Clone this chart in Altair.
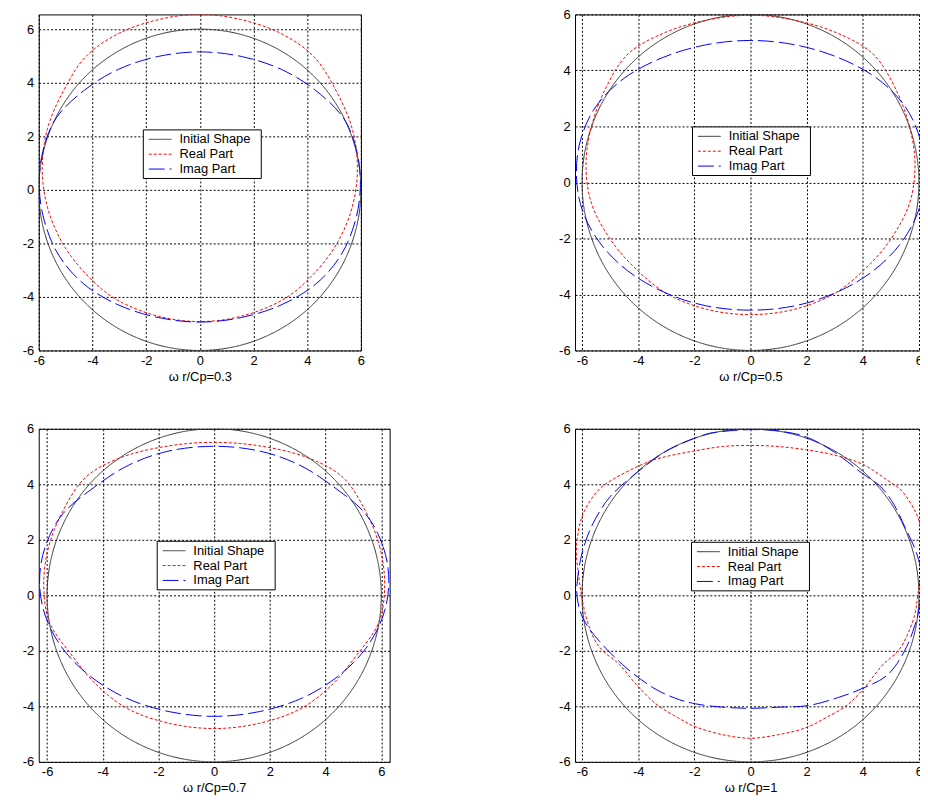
import altair as alt
import pandas as pd

SERIES = ["Initial Shape", "Real Part", "Imag Part"]
COLORS = ["#333333", "#ff0000", "#0000ff"]
DASHES = [[1, 0], [3, 2], [16, 5]]
TICKS = [-6, -4, -2, 0, 2, 4, 6]
TITLES = ["ω r/Cp=0.3", "ω r/Cp=0.5", "ω r/Cp=0.7", "ω r/Cp=1"]
FONT = "Liberation Sans"

init_x = [6.0, 5.91, 5.64, 5.2, 4.6, 3.86, 3.0, 2.05, 1.04, 0.0, -1.04, -2.05, -3.0, -3.86, -4.6, -5.2, -5.64, -5.91,
          -6.0, -5.91, -5.64, -5.2, -4.6, -3.86, -3.0, -2.05, -1.04, 0.0, 1.04, 2.05, 3.0, 3.86, 4.6, 5.2, 5.64, 5.91]
init_y = [0.0, 1.04, 2.05, 3.0, 3.86, 4.6, 5.2, 5.64, 5.91, 6.0, 5.91, 5.64, 5.2, 4.6, 3.86, 3.0, 2.05, 1.04,
          0.0, -1.04, -2.05, -3.0, -3.86, -4.6, -5.2, -5.64, -5.91, -6.0, -5.91, -5.64, -5.2, -4.6, -3.86, -3.0, -2.05, -1.04]

p1_real_x = [5.87, 5.67, 5.08, 4.25, 3.00, 1.52, 0.00, -1.52, -3.00, -4.25, -5.08, -5.67,
             -5.87, -5.67, -5.08, -4.15, -3.05, -1.55, 0.00, 1.55, 3.05, 4.15, 5.08, 5.67]
p1_real_y = [0.82, 2.30, 3.69, 4.97, 5.85, 6.36, 6.55, 6.36, 5.85, 4.97, 3.69, 2.30,
             0.82, -0.67, -2.05, -3.24, -4.13, -4.72, -4.92, -4.72, -4.13, -3.24, -2.05, -0.67]
p1_imag_x = [5.98, 5.85, 5.35, 4.30, 3.03, 1.55, 0.00, -1.55, -3.03, -4.30, -5.35, -5.85,
             -5.98, -5.78, -5.25, -4.32, -3.03, -1.55, 0.00, 1.55, 3.03, 4.32, 5.25, 5.78]
p1_imag_y = [0.10, 1.42, 2.68, 3.72, 4.50, 4.98, 5.15, 4.98, 4.50, 3.72, 2.68, 1.42,
             0.10, -1.20, -2.45, -3.52, -4.30, -4.77, -4.94, -4.77, -4.30, -3.52, -2.45, -1.20]

p2_real_x = [5.86, 5.66, 5.15, 4.35, 3.05, 1.55, 0.00, -1.55, -3.05, -4.35, -5.15, -5.66,
             -5.86, -5.66, -4.98, -4.05, -2.93, -1.52, 0.00, 1.52, 2.93, 4.05, 4.98, 5.66]
p2_real_y = [0.63, 2.01, 3.38, 4.60, 5.35, 5.80, 5.97, 5.80, 5.35, 4.60, 3.38, 2.01,
             0.63, -0.76, -2.05, -3.12, -4.00, -4.54, -4.72, -4.54, -4.00, -3.12, -2.05, -0.76]
p2_imag_x = [6.20, 6.05, 5.50, 4.50, 3.15, 1.61, 0.00, -1.61, -3.15, -4.50, -5.50, -6.05,
             -6.20, -5.99, -5.37, -4.38, -3.10, -1.61, 0.00, 1.61, 3.10, 4.38, 5.37, 5.99]
p2_imag_y = [0.26, 1.52, 2.72, 3.72, 4.45, 4.91, 5.07, 4.91, 4.45, 3.72, 2.72, 1.52,
             0.26, -0.99, -2.15, -3.15, -3.91, -4.40, -4.56, -4.40, -3.91, -3.15, -2.15, -0.99]

p3_real_x = [6.12, 5.95, 5.45, 4.62, 3.30, 1.65, 0.00, -1.65, -3.30, -4.62, -5.45, -5.95,
             -6.12, -5.91, -5.12, -4.20, -3.06, -1.58, 0.00, 1.58, 3.06, 4.20, 5.12, 5.91]
p3_real_y = [0.36, 1.72, 3.00, 4.25, 4.98, 5.38, 5.51, 5.38, 4.98, 4.25, 3.00, 1.72,
             0.36, -0.98, -2.15, -3.25, -4.11, -4.62, -4.80, -4.62, -4.11, -3.25, -2.15, -0.98]
p3_imag_x = [6.27, 6.06, 5.43, 4.30, 3.05, 1.62, 0.00, -1.62, -3.05, -4.30, -5.43, -6.06,
             -6.27, -6.06, -5.43, -4.43, -3.14, -1.62, 0.00, 1.62, 3.14, 4.43, 5.43, 6.06]
p3_imag_y = [0.51, 1.77, 2.94, 3.90, 4.70, 5.20, 5.37, 5.20, 4.70, 3.90, 2.94, 1.77,
             0.51, -0.75, -1.93, -2.93, -3.71, -4.19, -4.36, -4.19, -3.71, -2.93, -1.93, -0.75]

p4_real_x = [5.96, 6.08, 6.12, 6.05, 5.85, 5.40, 4.90, 4.00, 3.00, 2.00, 1.00, 0.00,
             -1.00, -1.95, -3.00, -3.72, -4.90, -5.49, -5.96, -6.15, -6.20, -6.12, -6.02,
             -5.85, -5.60, -5.26, -4.67, -4.08, -3.37, -2.60, -1.95, -1.00, 0.00,
             1.00, 1.95, 2.70, 3.45, 4.08, 4.67, 5.26, 5.60, 5.85]
p4_real_y = [0.00, 0.90, 1.80, 2.50, 3.06, 3.75, 4.13, 4.72, 5.05, 5.24, 5.36, 5.40,
             5.36, 5.21, 5.00, 4.78, 4.18, 3.71, 2.94, 2.20, 1.50, 0.70, 0.00,
             -0.80, -1.50, -2.00, -2.49, -3.20, -3.91, -4.40, -4.74, -5.02, -5.15,
             -5.02, -4.78, -4.40, -3.95, -3.30, -2.55, -2.00, -1.40, -0.70]
p4_imag_x = [6.08, 6.05, 5.85, 5.55, 5.30, 5.02, 4.60, 4.00, 3.00, 2.00, 1.00, 0.00,
             -1.00, -1.71, -3.01, -4.19, -5.02, -5.61, -5.95, -6.12, -6.18,
             -5.96, -5.37, -4.43, -3.48, -2.70, -1.95, -1.00, 0.00,
             1.00, 2.07, 3.13, 4.07, 4.90, 5.49, 5.85, 6.02]
p4_imag_y = [0.30, 1.00, 1.70, 2.35, 2.90, 3.42, 3.95, 4.38, 5.15, 5.70, 5.92, 5.97,
             5.90, 5.76, 5.19, 4.30, 3.53, 2.59, 1.70, 0.90, 0.00,
             -0.84, -1.67, -2.61, -3.32, -3.70, -3.91, -4.03, -4.07,
             -4.03, -3.97, -3.68, -3.32, -2.85, -2.00, -1.10, -0.40]


def make_df(rx, ry, ix, iy):
    rows = []
    for name, xs, ys in ((SERIES[0], init_x, init_y), (SERIES[1], rx, ry), (SERIES[2], ix, iy)):
        for k, (a, b) in enumerate(zip(xs, ys)):
            rows.append({"series": name, "x": a, "y": b, "k": k})
    return pd.DataFrame(rows)


def panel(df, title, xdom, ydom, w, h, y_extent, lx, ly):
    leg = alt.Legend(
        orient="none", legendX=lx, legendY=ly, title=".", titleOrient="right",
        titleColor="white", titleFontSize=13, titlePadding=4,
        strokeColor="black", fillColor="white", padding=2, cornerRadius=0,
        symbolType="M-0.533,0L2.533,0", symbolSize=225, symbolStrokeWidth=1,
        labelFont=FONT, labelFontSize=13, labelColor="black", labelOffset=19,
        rowPadding=0,
    )
    axis_common = dict(
        values=TICKS, domain=False, ticks=False, grid=True, gridColor="black",
        gridDash=[2, 2], gridOpacity=1, gridWidth=1, labelFont=FONT, labelFontSize=13,
        labelColor="black", titleFont=FONT, titleFontSize=13, titleFontWeight="normal",
        titleColor="black", labelFlush=False,
        labelExpr="replace(datum.label, '\u2212', '-')",
    )
    return alt.Chart(df).mark_line(interpolate="cardinal-closed", strokeWidth=1, clip=True).encode(
        x=alt.X("x:Q", scale=alt.Scale(domain=xdom, nice=False, zero=False),
                axis=alt.Axis(title=title, labelPadding=4, titlePadding=3, **axis_common)),
        y=alt.Y("y:Q", scale=alt.Scale(domain=ydom, nice=False, zero=False),
                axis=alt.Axis(title=None, labelPadding=5, minExtent=y_extent, **axis_common)),
        color=alt.Color("series:N", scale=alt.Scale(domain=SERIES, range=COLORS), legend=leg),
        strokeDash=alt.StrokeDash("series:N", scale=alt.Scale(domain=SERIES, range=DASHES), legend=leg),
        order=alt.Order("k:Q"),
    ).properties(width=w, height=h)


H1 = 339
H2 = 336
c1 = panel(make_df(p1_real_x, p1_real_y, p1_imag_x, p1_imag_y), TITLES[0], [-6, 6], [-6, 6.55], 325, H1, 30, 105, 116)
c2 = panel(make_df(p2_real_x, p2_real_y, p2_imag_x, p2_imag_y), TITLES[1], [-6.25, 6.25], [-6, 6], 354, H1, 17, 118, 113)
c3 = panel(make_df(p3_real_x, p3_real_y, p3_imag_x, p3_imag_y), TITLES[2], [-6.3, 6.3], [-6, 6], 354, H2, 30, 119, 113)
c4 = panel(make_df(p4_real_x, p4_real_y, p4_imag_x, p4_imag_y), TITLES[3], [-6.25, 6.25], [-6, 6], 354, H2, 17, 117, 114)

res = dict(color="independent", strokeDash="independent")
row1 = alt.hconcat(c1, c2, spacing=216, bounds="flush").resolve_scale(**res).resolve_legend(**res)
row2 = alt.hconcat(c3, c4, spacing=187, bounds="flush").resolve_scale(**res).resolve_legend(**res)

chart = alt.vconcat(row1, row2, spacing=38).resolve_scale(**res).resolve_legend(**res).properties(
    padding={"top": -4, "left": 0, "right": -7, "bottom": 0}, background="white"
).configure_view(stroke="black", strokeWidth=1)

chart.save("out.html", embed_options={"renderer": "svg", "actions": False})
